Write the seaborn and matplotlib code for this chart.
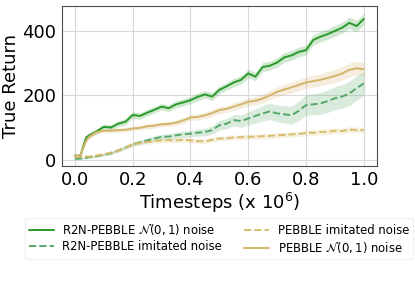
import matplotlib
matplotlib.use("Agg")
from matplotlib import pyplot as plt
import numpy as np
import pandas as pd
import seaborn as sns

# timesteps (x 10^6)
steps = [0.0, 0.01, 0.02, 0.03, 0.04, 0.05, 0.075, 0.1, 0.125, 0.15, 0.175, 0.2, 0.225, 0.25,
         0.275, 0.3, 0.325, 0.35, 0.375, 0.4, 0.425, 0.45, 0.475, 0.5, 0.525, 0.55, 0.575, 0.6,
         0.625, 0.65, 0.675, 0.7, 0.725, 0.75, 0.775, 0.8, 0.825, 0.85, 0.875, 0.9, 0.925, 0.95,
         0.975, 1.0]

r2n_normal = [13, 12, 14, 45, 70, 76, 88, 102, 100, 112, 118, 139, 136, 146, 155, 165, 160, 172,
              178, 185, 195, 203, 196, 217, 228, 240, 248, 268, 258, 288, 292, 302, 318, 324, 335,
              340, 372, 382, 390, 400, 410, 425, 415, 437]
r2n_normal_sd = [5, 5, 5, 8, 8, 8, 8, 9, 9, 9, 10, 10, 10, 10, 10, 10, 11, 11, 11, 11, 12, 12, 12,
                 12, 12, 13, 13, 13, 13, 14, 14, 14, 15, 15, 15, 15, 16, 16, 16, 17, 17, 18, 18, 18]

r2n_imitated = [3, 3, 4, 5, 6, 8, 11, 16, 20, 29, 38, 48, 54, 60, 66, 71, 72, 76, 79, 81, 84, 86,
                92, 107, 112, 123, 120, 128, 136, 144, 150, 144, 141, 138, 152, 170, 172, 175, 182,
                191, 196, 206, 222, 237]
r2n_imitated_sd = [3, 3, 3, 3, 3, 3, 4, 4, 5, 5, 6, 6, 7, 7, 8, 8, 9, 9, 10, 10, 11, 12, 13, 15, 16,
                   18, 19, 20, 22, 24, 25, 26, 27, 28, 30, 32, 33, 34, 35, 36, 37, 38, 38, 38]

pebble_imitated = [8, 8, 9, 9, 10, 10, 13, 17, 22, 29, 38, 48, 52, 55, 58, 60, 61, 60, 62, 60, 58,
                   57, 62, 66, 67, 69, 70, 71, 72, 73, 74, 76, 77, 79, 80, 83, 84, 86, 87, 90, 89,
                   94, 92, 92]
pebble_imitated_sd = [3, 3, 3, 3, 3, 3, 4, 4, 4, 5, 5, 6, 6, 6, 7, 7, 7, 7, 7, 7, 7, 7, 7, 7, 7, 7,
                      8, 8, 8, 8, 8, 8, 8, 8, 8, 9, 9, 9, 9, 9, 9, 9, 9, 9]

pebble_normal = [13, 12, 14, 40, 60, 72, 86, 90, 90, 92, 93, 97, 99, 104, 106, 110, 111, 115, 122,
                 131, 133, 138, 145, 154, 158, 165, 172, 180, 183, 190, 200, 211, 218, 225, 232,
                 240, 244, 248, 254, 260, 268, 279, 284, 281]
pebble_normal_sd = [4, 4, 4, 6, 6, 6, 6, 6, 7, 7, 7, 7, 7, 8, 8, 8, 8, 9, 9, 9, 10, 10, 10, 11, 11,
                    12, 12, 13, 13, 14, 15, 15, 16, 17, 17, 18, 19, 19, 20, 21, 21, 22, 22, 22]

series = [
    (r"R2N-PEBBLE $\mathcal{N}(0,1)$ noise", r2n_normal, r2n_normal_sd, "#2a9a2a", "-"),
    ("R2N-PEBBLE imitated noise", r2n_imitated, r2n_imitated_sd, "#55a868", "--"),
    ("PEBBLE imitated noise", pebble_imitated, pebble_imitated_sd, "#d8bc6e", "--"),
    (r"PEBBLE $\mathcal{N}(0,1)$ noise", pebble_normal, pebble_normal_sd, "#d4b46a", "-"),
]

sns.set_style("whitegrid", {"axes.edgecolor": "0.3", "grid.color": "0.85",
                            "text.color": "black", "axes.labelcolor": "black",
                            "xtick.color": "black", "ytick.color": "black"})

fig = plt.figure(figsize=(4.15, 2.91), dpi=100)
ax = fig.add_axes([0.149, 0.43, 0.759, 0.549])

x = np.array(steps)
for name, mean, sd, col, ls in series:
    mean = np.array(mean, dtype=float)
    sd = np.array(sd, dtype=float)
    df = pd.DataFrame({"t": x, "ret": mean})
    sns.lineplot(data=df, x="t", y="ret", ax=ax, color=col, linestyle=ls, lw=1.4, label=name)
    ax.fill_between(x, mean - sd, mean + sd, color=col, alpha=0.22, lw=0)

ax.set_xlim(-0.045, 1.045)
ax.set_ylim(-19, 477)
ax.set_xticks([0.0, 0.2, 0.4, 0.6, 0.8, 1.0])
ax.set_yticks([0, 200, 400])
ax.tick_params(labelsize=13, length=0, pad=4)
ax.set_xlabel(r"Timesteps (x $10^6$)", fontsize=13, labelpad=1)
ax.set_ylabel("True Return", fontsize=13, labelpad=2)
for sp in ax.spines.values():
    sp.set_linewidth(0.8)

handles, labels = ax.get_legend_handles_labels()
ax.get_legend().remove()
fig.legend(handles, labels, loc="upper center", bbox_to_anchor=(0.528, 0.27), ncol=2,
           fontsize=8.4, frameon=True, framealpha=0.5, edgecolor="0.9", handlelength=2.15,
           columnspacing=1.9, labelspacing=0.25, borderpad=0.35, handletextpad=0.7)

fig.savefig("out.png", dpi=100)
